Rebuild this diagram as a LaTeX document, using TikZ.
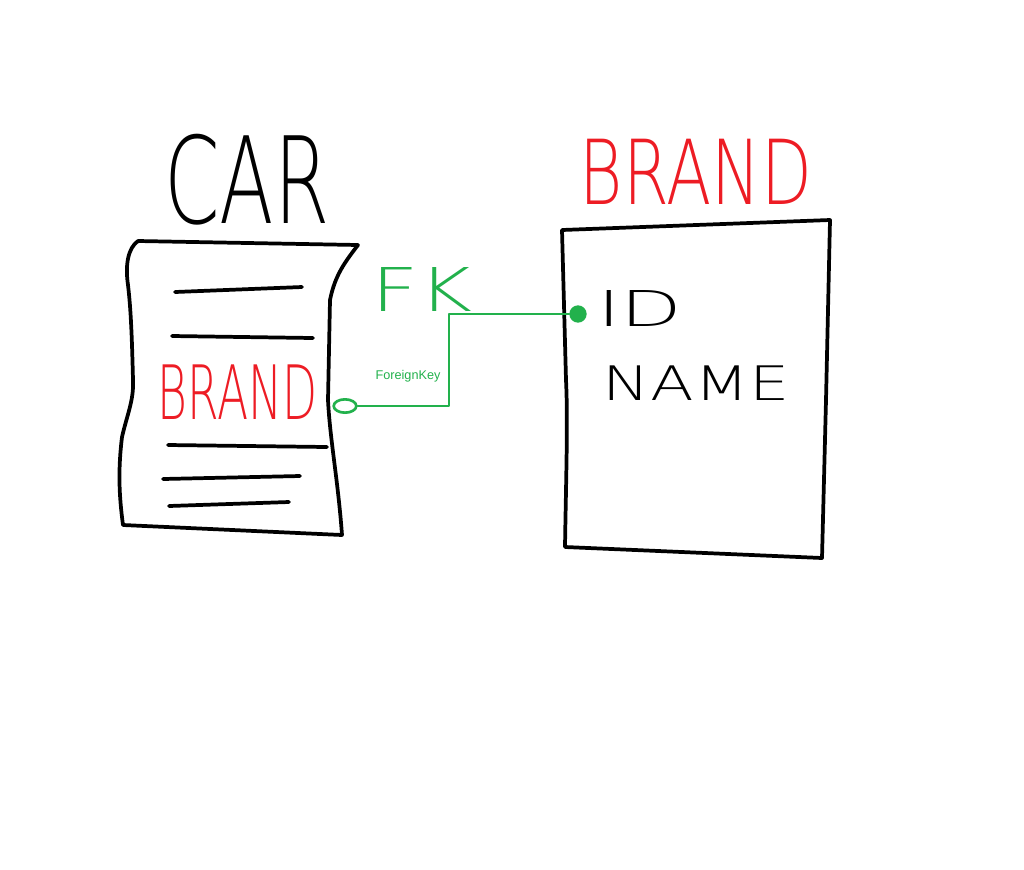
\documentclass[tikz,border=0pt]{standalone}
\usepackage{fontspec}
\setmainfont{Liberation Sans}
\newfontfamily\handfont{DejaVu Sans ExtraLight}
\usetikzlibrary{shapes.geometric}
\definecolor{paintred}{RGB}{237,28,36}
\definecolor{paintgreen}{RGB}{34,177,76}
\begin{document}
\begin{tikzpicture}[x=0.75pt,y=-0.75pt,
  ink/.style={line width=2.8pt,line join=round,line cap=round},
  fkline/.style={draw=paintgreen,line width=2.1pt,line join=round,line cap=round},
  label/.style={inner sep=0pt,outer sep=0pt,font=\handfont}]
\useasboundingbox (0,0) rectangle (1024,869);
% CAR table
\node[label] (cartitle) at (247,180) {\resizebox{124pt}{67pt}{CAR}};
\draw[ink] (138,241) -- (358,245) .. controls (345,262) and (335,275) .. (330,300)
  -- (328,400) .. controls (330,440) and (338,480) .. (342,535)
  -- (123,525) .. controls (119,495) and (118,470) .. (122,437)
  .. controls (127,415) and (134,400) .. (133,380)
  .. controls (132,340) and (131,310) .. (128,285)
  .. controls (125,265) and (128,248) .. (138,241) -- cycle;
\draw[ink] (175,292) -- (302,287);
\draw[ink] (172,336) -- (313,338);
\draw[ink] (168,445) -- (327,447);
\draw[ink] (163,479) -- (300,476);
\draw[ink] (169,506) -- (289,502);
\node[label,text=paintred] (carbrand) at (238,392) {\resizebox{120pt}{41pt}{BRAND}};
% BRAND table
\node[label,text=paintred] (brandtitle) at (696,172) {\resizebox{174pt}{49pt}{BRAND}};
\draw[ink] (562,230) -- (830,220) -- (826,400) -- (822,558) -- (565,547)
  .. controls (566,480) and (568,420) .. (566,380) -- cycle;
\node[label] (id) at (640,308) {\resizebox{64pt}{27pt}{ID}};
\node[label] (name) at (696,383) {\resizebox{140pt}{26pt}{NAME}};
% foreign key connector
\node[draw=paintgreen,line width=2pt,ellipse,minimum width=17pt,minimum height=10pt,inner sep=0pt] (fkstart) at (345,406) {};
\node[fill=paintgreen,circle,minimum size=13pt,inner sep=0pt] (iddot) at (578,314) {};
\coordinate (bend) at (449,360);
\draw[fkline] (fkstart.east) -| (bend) |- (iddot.west);
\node[label,text=paintgreen] (fk) at (422,289) {\resizebox{76pt}{33pt}{FK}};
\node[inner sep=0pt,text=paintgreen,font=\fontsize{9.5}{11}\selectfont] (fklabel) at (408,376) {ForeignKey};
\end{tikzpicture}
\end{document}
